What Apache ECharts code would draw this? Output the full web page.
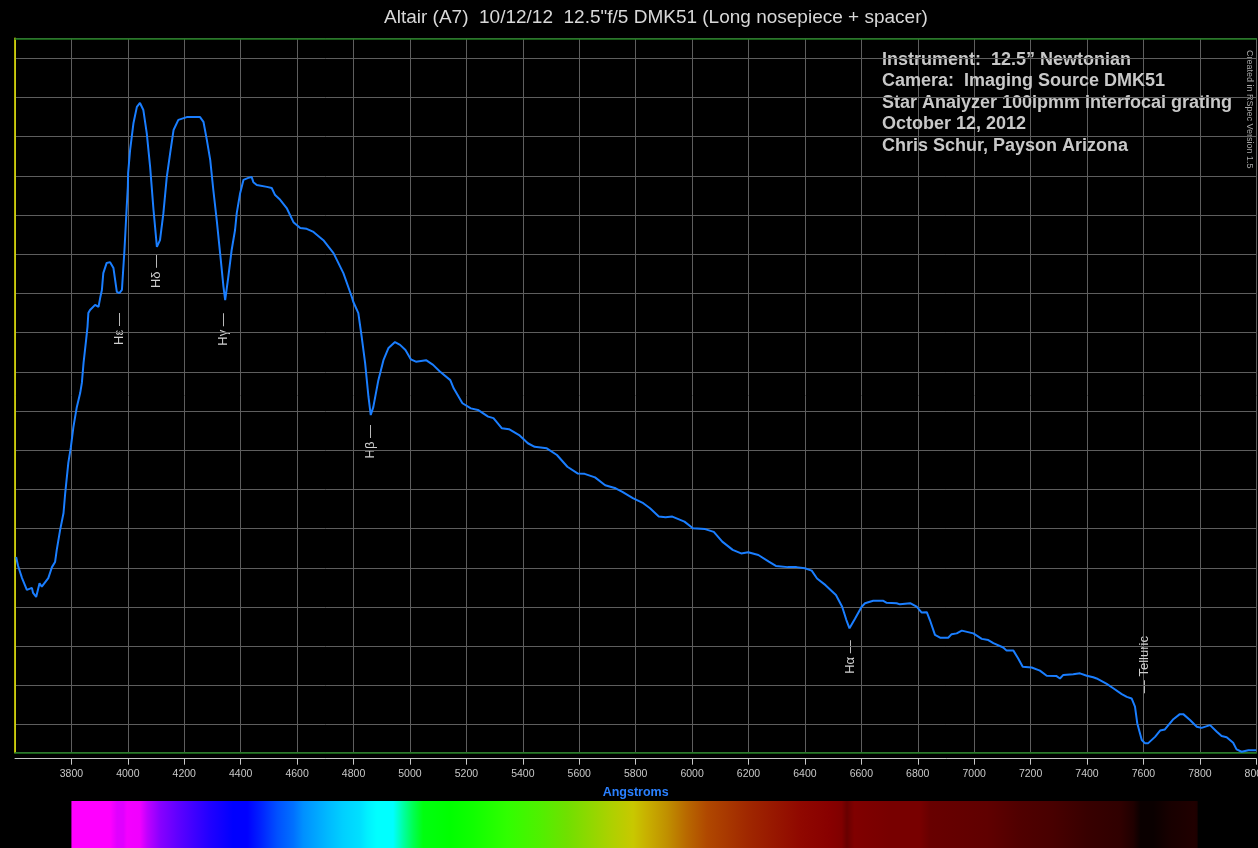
<!DOCTYPE html>
<html>
<head>
<meta charset="utf-8">
<script src="https://cdn.jsdelivr.net/npm/echarts@6/dist/echarts.min.js"></script>
<style>
html,body{margin:0;padding:0;background:#000;overflow:hidden;}
#chart{width:1258px;height:848px;}
</style>
</head>
<body>
<div id="chart"></div>
<script>
// ---- Data ----
const wavelengths = [3604,3611,3618,3625,3642,3660,3664,3675,3687,3695,
3701,3718,3731,3742,3748,3760,3772,3778,3789,3798,
3807,3819,3831,3837,3843,3852,3857,3860,3866,3884,
3896,3902,3908,3913,3925,3937,3949,3961,3970,3979,
3988,3996,4000,4001,4008,4020,4032,4043,4055,4067,
4079,4091,4103,4114,4126,4138,4150,4162,4179,4209,
4256,4268,4280,4292,4303,4315,4327,4339,4345,4356,
4368,4380,4386,4398,4410,4427,4439,4445,4457,4493,
4510,4522,4540,4563,4587,4611,4634,4658,4693,4729,
4764,4794,4799,4817,4829,4841,4853,4861,4870,4888,
4906,4924,4947,4965,4984,5003,5021,5057,5082,5106,
5143,5155,5186,5216,5241,5277,5296,5326,5351,5387,
5418,5442,5485,5521,5558,5594,5619,5656,5692,5729,
5753,5790,5827,5851,5882,5906,5930,5973,6003,6046,
6077,6107,6144,6174,6199,6235,6272,6297,6339,6370,
6400,6424,6443,6473,6510,6532,6547,6558,6578,6601,
6613,6642,6678,6690,6725,6737,6773,6796,6814,6832,
6843,6861,6879,6908,6920,6938,6956,6997,7027,7050,
7068,7103,7115,7139,7156,7172,7204,7233,7257,7292,
7304,7316,7351,7375,7399,7422,7434,7470,7493,7523,
7541,7558,7570,7578,7594,7605,7617,7641,7659,7676,
7706,7729,7741,7765,7789,7806,7836,7860,7877,7895,
7918,7930,7948,7972,8000];

const intensity = [5.28,5.05,5.00,4.74,4.44,4.49,4.36,4.26,4.61,4.52,
4.49,4.74,5.02,5.15,5.46,5.97,6.40,6.91,7.68,8.08,
8.59,9.10,9.46,9.72,10.23,10.81,11.15,11.50,11.58,11.71,
11.66,11.89,12.09,12.52,12.78,12.80,12.65,12.04,12.01,12.09,
13.11,14.21,14.72,15.07,15.66,16.35,16.76,16.86,16.68,16.09,
15.23,14.13,13.19,13.36,14.05,14.97,15.58,16.17,16.43,16.50,
16.50,16.38,15.92,15.41,14.64,13.88,13.03,12.17,11.83,12.42,
13.11,13.62,14.05,14.56,14.90,14.95,14.97,14.84,14.77,14.72,
14.69,14.51,14.39,14.18,13.82,13.67,13.65,13.57,13.36,13.03,
12.52,11.91,11.79,11.50,10.89,10.23,9.36,8.90,9.10,9.79,
10.30,10.61,10.76,10.69,10.56,10.32,10.26,10.30,10.18,10.01,
9.79,9.58,9.20,9.07,9.03,8.86,8.82,8.56,8.54,8.39,
8.18,8.09,8.05,7.88,7.58,7.41,7.40,7.31,7.11,7.03,
6.94,6.78,6.65,6.52,6.31,6.29,6.31,6.18,6.01,5.99,
5.92,5.67,5.46,5.37,5.40,5.33,5.16,5.05,5.02,5.02,
4.99,4.93,4.73,4.56,4.31,4.01,3.67,3.46,3.71,4.01,
4.10,4.16,4.16,4.11,4.10,4.07,4.10,4.01,3.86,3.87,
3.67,3.29,3.22,3.22,3.31,3.33,3.40,3.33,3.19,3.16,
3.08,2.97,2.89,2.89,2.69,2.48,2.46,2.38,2.25,2.24,
2.18,2.27,2.29,2.31,2.25,2.21,2.18,2.04,1.93,1.78,
1.71,1.67,1.46,1.04,0.61,0.53,0.53,0.69,0.85,0.88,
1.14,1.27,1.27,1.12,0.95,0.92,0.99,0.82,0.71,0.68,
0.54,0.37,0.31,0.35,0.35];

// spectral line markers
const lineNames = ['Hε','Hδ','Hγ','Hβ','Hα','Telluric'];
const lineWavelengths = [3970, 4102, 4340, 4861, 6563, 7605];

// colour strip (wavelength -> colour)
const stripWavelengths = [3800,3937,3962,3984,3997,4043,4069,4115,4175,4232,
4292,4373,4423,4469,4529,4586,4622,4706,4763,4823,
4848,4883,4940,4977,5012,5047,5143,5224,5344,5461,
5557,5639,5720,5791,5840,5911,5982,6053,6124,6195,
6287,6383,6489,6530,6549,6575,6700,6808,6844,7045,
7162,7279,7400,7517,7564,7590,7635,7697,7779,7792];
const stripColors = ['#ff00ff','#ff00ff','#e000ff','#e000ff','#f400ff','#f000ff','#c000ff','#8800ff','#6000ff','#4000ff',
'#2000ff','#0000ff','#0000ff','#0020ff','#0050ff','#0070ff','#0090ff','#00b8ff','#00d0ff','#00e0ff',
'#00f0ff','#00ffff','#00ffff','#00ffa0','#00ff50','#00ff10','#00ff00','#10ff00','#30ff00','#50f000',
'#70e000','#90d800','#b0d000','#c8c800','#c8b000','#c09000','#b86800','#b04800','#a83800','#a02800',
'#981800','#900800','#880000','#800000','#680000','#800000','#780000','#780000','#680000','#600000',
'#500000','#480000','#380000','#300000','#200000','#0a0000','#0a0000','#180000','#200000','#1c0000'];

const titleText = 'Altair (A7)  10/12/12  12.5"f/5 DMK51 (Long nosepiece + spacer)';
const infoLines = ['Instrument:  12.5\u201D Newtonian','Camera:  Imaging Source DMK51',
  'Star Analyzer 100lpmm interfocal grating','October 12, 2012','Chris Schur, Payson Arizona'];
const creditText = 'Created in RSpec Version 1.5';

// ---- Chart ----
const FONT = 'Liberation Sans, Arial, sans-serif';
const chart = echarts.init(document.getElementById('chart'), null, {renderer:'canvas'});
const seriesData = wavelengths.map((w,i)=>[w,intensity[i]]);
const X_MIN = 3600, X_MAX = 8000;

const stripStops = stripWavelengths.map((w,i)=>({
  offset:(w-stripWavelengths[0])/(stripWavelengths[stripWavelengths.length-1]-stripWavelengths[0]),
  color:stripColors[i]}));

const infoGraphics = infoLines.map((t,i)=>({
  type:'text', x:882, y:60+i*21.5,
  style:{text:t, fill:'#c8c8c8', font:'bold 18px '+FONT, textVerticalAlign:'middle'}
}));
infoGraphics.push({type:'text', x:1249, y:50, rotation:-Math.PI/2,
  style:{text:creditText, fill:'#a8a8a8', font:'9px '+FONT, textAlign:'left', textVerticalAlign:'middle'}});

const option = {
  backgroundColor:'#000',
  animation:false,
  title:{text:titleText, left:379, top:3,
    textStyle:{color:'#d8d8d8', fontSize:19, fontWeight:'normal', fontFamily:FONT}},
  grid:[
    {left:15, top:38.3, width:1241.3, height:714.4, containLabel:false, outerBoundsMode:'none'},
    {left:15, top:801, width:1241.3, height:47, containLabel:false, outerBoundsMode:'none'}
  ],
  xAxis:[
    {type:'value', gridIndex:0, min:X_MIN, max:X_MAX, interval:200, position:'bottom', offset:6,
      axisLine:{show:true, onZero:false, lineStyle:{color:'#c8c8c8', width:1}},
      axisTick:{show:true, length:6, lineStyle:{color:'#c8c8c8'}},
      axisLabel:{color:'#c8c8c8', fontSize:10.5, fontFamily:FONT, margin:10, showMinLabel:false,
        formatter:function(v){ return String(v); }},
      splitLine:{show:true, lineStyle:{color:'#5e5e5e', width:1}},
      name:'Angstroms', nameLocation:'middle', nameGap:27,
      nameTextStyle:{color:'#2a80ff', fontWeight:'bold', fontSize:12.5, fontFamily:FONT}},
    {type:'value', gridIndex:0, min:X_MIN, max:X_MAX, position:'top', z:1,
      axisLine:{show:true, onZero:false, lineStyle:{color:'#1f7d1f', width:1.5}},
      axisTick:{show:false}, axisLabel:{show:false}, splitLine:{show:false}},
    {type:'value', gridIndex:0, min:X_MIN, max:X_MAX, position:'bottom', offset:0, z:1,
      axisLine:{show:true, onZero:false, lineStyle:{color:'#1f7d1f', width:1.5}},
      axisTick:{show:false}, axisLabel:{show:false}, splitLine:{show:false}},
    {type:'value', gridIndex:1, min:X_MIN, max:X_MAX, show:false}
  ],
  yAxis:[
    {type:'value', gridIndex:0, min:0.286, max:18.51, splitNumber:18, z:1,
      axisLine:{show:true, onZero:false, lineStyle:{color:'#f0f000', width:1.5}},
      axisTick:{show:false}, axisLabel:{show:false},
      splitLine:{show:true, lineStyle:{color:'#5e5e5e', width:1}}},
    {type:'value', gridIndex:1, min:0, max:1, show:false}
  ],
  series:[
    {type:'line', xAxisIndex:0, yAxisIndex:0, data:seriesData, showSymbol:false, z:3,
      lineStyle:{color:'#1a7eff', width:2}, silent:true},
    {type:'custom', xAxisIndex:3, yAxisIndex:1, silent:true,
      data:[[stripWavelengths[0], stripWavelengths[stripWavelengths.length-1]]],
      encode:{x:[0,1]},
      renderItem:function(params, api){
        const p0 = api.coord([api.value(0), 1]);
        const p1 = api.coord([api.value(1), 0]);
        return {type:'rect', shape:{x:p0[0], y:p0[1], width:p1[0]-p0[0], height:p1[1]-p0[1]},
          style:{fill:new echarts.graphic.LinearGradient(0,0,1,0, stripStops)}};
      }}
  ],
  graphic:infoGraphics
};
chart.setOption(option);

// spectral line labels positioned through the chart's own scales
const labelGap = [20, 8, 13, 10, 12, -50];
const labelGraphics = lineWavelengths.map((lw,i)=>{
  let vmin = Infinity;
  wavelengths.forEach((w,j)=>{ if (Math.abs(w-lw)<=20 && intensity[j]<vmin) vmin = intensity[j]; });
  const p = chart.convertToPixel({xAxisIndex:0, yAxisIndex:0}, [lw, vmin]);
  const tele = labelGap[i] < 0;
  return {type:'text', x:p[0], y:p[1]+labelGap[i], rotation:Math.PI/2,
    style:{text: tele ? '\u2014 '+lineNames[i] : lineNames[i]+' \u2014',
      fill:'#d0d0d0', font:'13px '+FONT, textAlign: tele ? 'left' : 'right', textVerticalAlign:'middle'}};
});
chart.setOption({graphic: infoGraphics.concat(labelGraphics)}, {replaceMerge:['graphic']});
</script>
</body>
</html>
